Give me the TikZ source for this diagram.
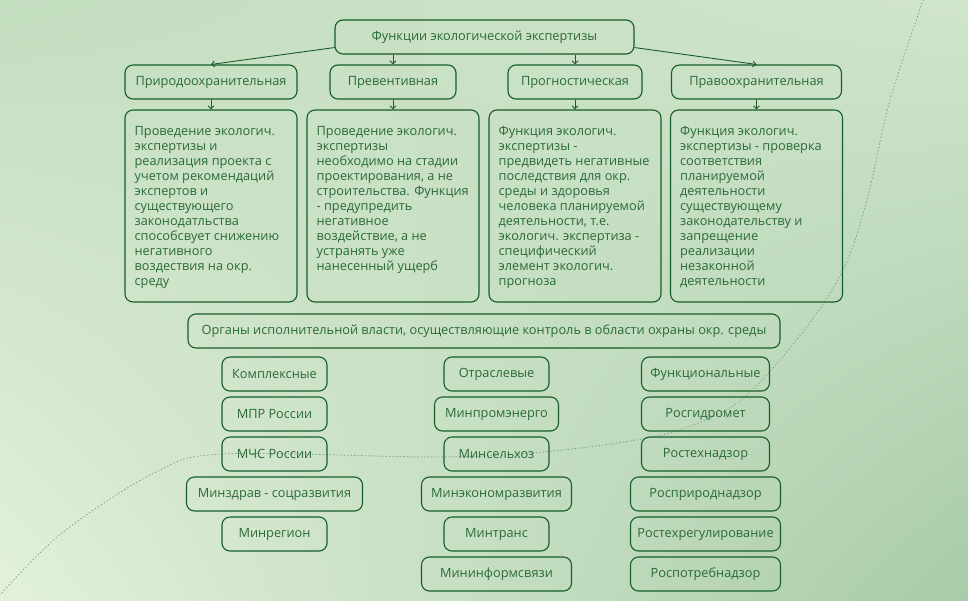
\documentclass[tikz,border=0pt]{standalone}
\usepackage{fontspec}
\setmainfont{Open Sans}
\usepackage{tikz}
\usetikzlibrary{positioning,calc,arrows.meta,shadings}
\definecolor{linec}{HTML}{165D27}
\definecolor{textc}{HTML}{2A6A37}
\definecolor{dotc}{HTML}{7FA78A}
\definecolor{bgul}{HTML}{C3DDBF}
\definecolor{bgur}{HTML}{D0E5CC}
\definecolor{bgll}{HTML}{E3F1DB}
\definecolor{bglr}{HTML}{A8CBA8}

\begin{document}
\begin{tikzpicture}[x=1pt, y=-1pt, font=\fontsize{12.75}{15}\selectfont,
  box/.style={draw=linec, line width=1.1pt, rounded corners=8pt, text=textc,
    inner sep=0pt, minimum height=34pt},
  txt/.style={text=textc, align=left, inner sep=0pt, anchor=north west},
  arr/.style={draw=linec, line width=0.9pt, -{Straight Barb[length=3pt,width=6pt]}}]
  % background
  \useasboundingbox (0,0) rectangle (968,600);
  \shade[upper left=bgul, upper right=bgur, lower left=bgll, lower right=bglr]
     (0,0) rectangle (968,600);
  \draw[dotc, line width=0.9pt, dash pattern=on 0.9pt off 2.6pt, line cap=round]
     plot[smooth, tension=0.55] coordinates {(-3,598) (62,533) (154,473) (222,454)
     (432,457) (531,453) (617,443) (679,430) (741,400) (802,333) (843,270)
     (867,200) (890,100) (926,-8)};
  % functions
  \node[box, minimum width=299pt] (fn) at (484.5,37) {Функции экологической экспертизы};
  \foreach \i/\x/\ww/\w in {1/211/172/Природоохранительная, 2/393/126/Превентивная,
     3/575/134/Прогностическая, 4/756.5/170/Правоохранительная}
     \node[box, minimum width=\ww pt] (f\i) at (\x,82) {\w};
  \foreach \i/\x in {1/211,2/393,3/575,4/756.5}
     \node[box, minimum width=172pt, minimum height=192pt] (d\i) at (\x,206) {};
  \draw[arr] ($(fn.south west)+(0,-7)$) -- (f1.north);
  \draw[arr] (fn.south -| f2.north) -- (f2.north);
  \draw[arr] (fn.south -| f3.north) -- (f3.north);
  \draw[arr] ($(fn.south east)+(0,-7)$) -- (f4.north);
  \foreach \i in {1,...,4}
     \draw[arr] (f\i.south) -- (d\i.north);
  % descriptions
  \node[txt] (t1) at ($(d1.north west)+(10,16.5)$) {Проведение экологич.\\экспертизы и\\реализация проекта с\\учетом рекомендаций\\экспертов и\\существующего\\законодатльства\\способсвует снижению\\негативного\\воздествия на окр.\\среду};
  \node[txt] (t2) at ($(d2.north west)+(10,16.5)$) {Проведение экологич.\\экспертизы\\необходимо на стадии\\проектирования, а не\\строительства. Функция\\- предупредить\\негативное\\воздействие, а не\\устранять уже\\нанесенный ущерб};
  \node[txt] (t3) at ($(d3.north west)+(10,16.5)$) {Функция экологич.\\экспертизы -\\предвидеть негативные\\последствия для окр.\\среды и здоровья\\человека планируемой\\деятельности, т.е.\\экологич. экспертиза -\\специфический\\элемент экологич.\\прогноза};
  \node[txt] (t4) at ($(d4.north west)+(10,16.5)$) {Функция экологич.\\экспертизы - проверка\\соответствия\\планируемой\\деятельности\\существующему\\законодательству и\\запрещение\\реализации\\незаконной\\деятельности};
  % executive bodies
  \node[box, minimum width=592pt] (org) at (484,331) {Органы исполнительной власти, осуществляющие контроль в области охраны окр. среды};
  \foreach \j/\ww/\w in {1/105/Комплексные, 2/105/МПР России, 3/105/МЧС России,
     4/176/Минздрав - соцразвития, 5/105/Минрегион}
     \node[box, minimum width=\ww pt] (a\j) at (274.5,{334+40*\j}) {\w};
  \foreach \j/\ww/\w in {1/105/Отраслевые, 2/124/Минпромэнерго, 3/105/Минсельхоз,
     4/150/Минэкономразвития, 5/105/Минтранс, 6/150/Мининформсвязи}
     \node[box, minimum width=\ww pt] (b\j) at (496.5,{334+40*\j}) {\w};
  \foreach \j/\ww/\w in {1/128/Функциональные, 2/128/Росгидромет, 3/128/Ростехнадзор,
     4/150/Росприроднадзор, 5/150/Ростехрегулирование, 6/150/Роспотребнадзор}
     \node[box, minimum width=\ww pt] (c\j) at (705.5,{334+40*\j}) {\w};
\end{tikzpicture}
\end{document}
